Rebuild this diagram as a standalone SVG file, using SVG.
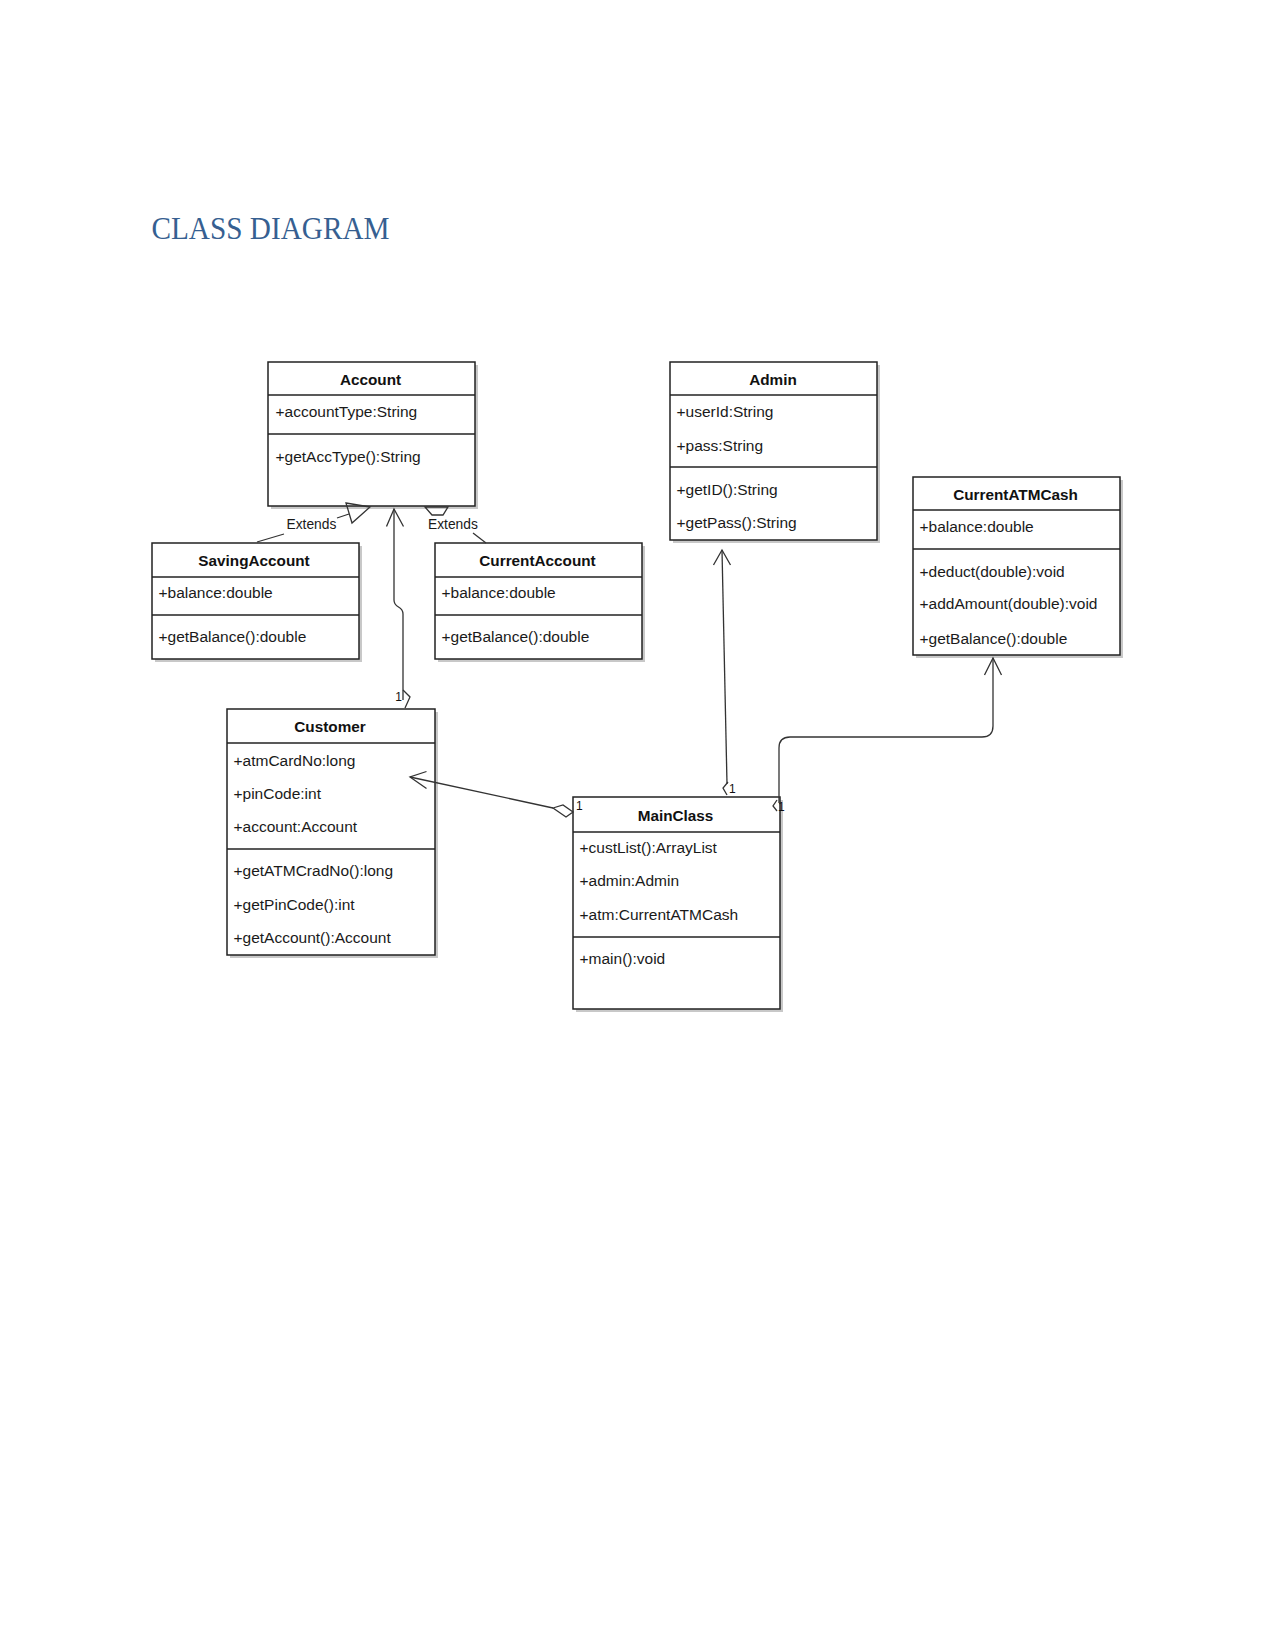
<svg xmlns="http://www.w3.org/2000/svg" width="1275" height="1650" viewBox="0 0 1275 1650">
<style>
.box{fill:#fff;stroke:#222;stroke-width:1.5}
.shadow{fill:#c8c8c8;stroke:none}
.div{stroke:#222;stroke-width:1.3}
.t{font-family:"Liberation Sans",Arial,sans-serif;font-size:15.5px;fill:#1a1a1a}
.h{font-family:"Liberation Sans",Arial,sans-serif;font-size:15.3px;font-weight:bold;fill:#111;text-anchor:middle}
.c{fill:none;stroke:#333;stroke-width:1.3}
.lbl{font-family:"Liberation Sans",Arial,sans-serif;font-size:13.8px;fill:#1a1a1a}
.m{font-family:"Liberation Sans",Arial,sans-serif;font-size:12px;fill:#111}
</style>
<rect width="1275" height="1650" fill="#fff"/>
<text x="151.5" y="238.5" font-family="'Liberation Serif','DejaVu Serif',serif" font-size="31" fill="#365f91" textLength="238" lengthAdjust="spacingAndGlyphs">CLASS DIAGRAM</text>

<g id="Account">
  <rect class="shadow" x="271" y="365" width="207" height="144"/>
  <rect class="box" x="268" y="362" width="207" height="144"/>
  <line class="div" x1="268" y1="395" x2="475" y2="395"/>
  <line class="div" x1="268" y1="434" x2="475" y2="434"/>
  <text class="h" x="370.5" y="384.5">Account</text>
  <text class="t" x="275.5" y="417">+accountType:String</text>
  <text class="t" x="275.5" y="461.5">+getAccType():String</text>
</g>

<g id="SavingAccount">
  <rect class="shadow" x="155" y="546" width="207" height="116"/>
  <rect class="box" x="152" y="543" width="207" height="116"/>
  <line class="div" x1="152" y1="577" x2="359" y2="577"/>
  <line class="div" x1="152" y1="615" x2="359" y2="615"/>
  <text class="h" x="254" y="565.5">SavingAccount</text>
  <text class="t" x="158.5" y="597.5">+balance:double</text>
  <text class="t" x="158.5" y="642">+getBalance():double</text>
</g>

<g id="CurrentAccount">
  <rect class="shadow" x="438" y="546" width="207" height="116"/>
  <rect class="box" x="435" y="543" width="207" height="116"/>
  <line class="div" x1="435" y1="577" x2="642" y2="577"/>
  <line class="div" x1="435" y1="615" x2="642" y2="615"/>
  <text class="h" x="537.5" y="565.5">CurrentAccount</text>
  <text class="t" x="441.5" y="597.5">+balance:double</text>
  <text class="t" x="441.5" y="642">+getBalance():double</text>
</g>

<g id="Admin">
  <rect class="shadow" x="673" y="365" width="207" height="178"/>
  <rect class="box" x="670" y="362" width="207" height="178"/>
  <line class="div" x1="670" y1="395" x2="877" y2="395"/>
  <line class="div" x1="670" y1="467" x2="877" y2="467"/>
  <text class="h" x="773" y="384.5">Admin</text>
  <text class="t" x="676.5" y="417">+userId:String</text>
  <text class="t" x="676.5" y="451">+pass:String</text>
  <text class="t" x="676.5" y="495">+getID():String</text>
  <text class="t" x="676.5" y="528">+getPass():String</text>
</g>

<g id="CurrentATMCash">
  <rect class="shadow" x="916" y="480" width="207" height="178"/>
  <rect class="box" x="913" y="477" width="207" height="178"/>
  <line class="div" x1="913" y1="510" x2="1120" y2="510"/>
  <line class="div" x1="913" y1="549" x2="1120" y2="549"/>
  <text class="h" x="1015.5" y="500">CurrentATMCash</text>
  <text class="t" x="919.5" y="532">+balance:double</text>
  <text class="t" x="919.5" y="576.5">+deduct(double):void</text>
  <text class="t" x="919.5" y="609">+addAmount(double):void</text>
  <text class="t" x="919.5" y="643.5">+getBalance():double</text>
</g>

<g id="Customer">
  <rect class="shadow" x="230" y="712" width="208" height="246"/>
  <rect class="box" x="227" y="709" width="208" height="246"/>
  <line class="div" x1="227" y1="743" x2="435" y2="743"/>
  <line class="div" x1="227" y1="849" x2="435" y2="849"/>
  <text class="h" x="330" y="732">Customer</text>
  <text class="t" x="233.5" y="765.5">+atmCardNo:long</text>
  <text class="t" x="233.5" y="799">+pinCode:int</text>
  <text class="t" x="233.5" y="832">+account:Account</text>
  <text class="t" x="233.5" y="876">+getATMCradNo():long</text>
  <text class="t" x="233.5" y="909.5">+getPinCode():int</text>
  <text class="t" x="233.5" y="943">+getAccount():Account</text>
</g>

<g id="MainClass">
  <rect class="shadow" x="576" y="800" width="207" height="212"/>
  <rect class="box" x="573" y="797" width="207" height="212"/>
  <line class="div" x1="573" y1="832" x2="780" y2="832"/>
  <line class="div" x1="573" y1="937" x2="780" y2="937"/>
  <text class="h" x="675.5" y="820.5">MainClass</text>
  <text class="t" x="579.5" y="853">+custList():ArrayList</text>
  <text class="t" x="579.5" y="886">+admin:Admin</text>
  <text class="t" x="579.5" y="919.5">+atm:CurrentATMCash</text>
  <text class="t" x="579.5" y="964">+main():void</text>
</g>

<g id="connectors">
  <!-- SavingAccount extends Account -->
  <path class="c" d="M257,542 L284,534 M337,518 L349,514"/>
  <polygon class="c" points="346,503 370,507 352,523" fill="#fff"/>
  <text class="lbl" x="286.5" y="529">Extends</text>
  <!-- CurrentAccount extends Account -->
  <polygon class="c" points="425,507 432,515 443,515 448,507" fill="#fff"/>
  <text class="lbl" x="428" y="529">Extends</text>
  <path class="c" d="M473,533 L486,543"/>
  <!-- Customer -> Account -->
  <path class="c" d="M394,509 V600 C394,609 403,605 403,614 V700"/>
  <path class="c" d="M386.5,526.5 L394,509 L403.5,526.5"/>
  <path class="c" d="M403,690 L410,697 L405,708"/>
  <text class="m" x="402" y="701" text-anchor="end">1</text>
  <!-- MainClass -> Customer (aggregation) -->
  <path class="c" d="M553,808 L410,777"/>
  <path class="c" d="M426.5,771.5 L410,777 L426.5,788.5"/>
  <polygon class="c" points="553,808 563,805 573,812 566,817" fill="#fff"/>
  <text class="m" x="576" y="810">1</text>
  <!-- MainClass -> Admin -->
  <path class="c" d="M722,550 L727,784"/>
  <path class="c" d="M713.5,565 L722,550 L730.5,565"/>
  <path class="c" d="M728,782 L723,788 L727,795"/>
  <text class="m" x="729" y="793">1</text>
  <!-- MainClass -> CurrentATMCash -->
  <path class="c" d="M779,803 V748 Q779,737 790,737 H982 Q993,737 993,726 V658"/>
  <path class="c" d="M984.5,675 L993,658 L1001.5,675"/>
  <path class="c" d="M777,800 L773,806 L777,811"/>
  <text class="m" x="778" y="811">1</text>
</g>
</svg>
